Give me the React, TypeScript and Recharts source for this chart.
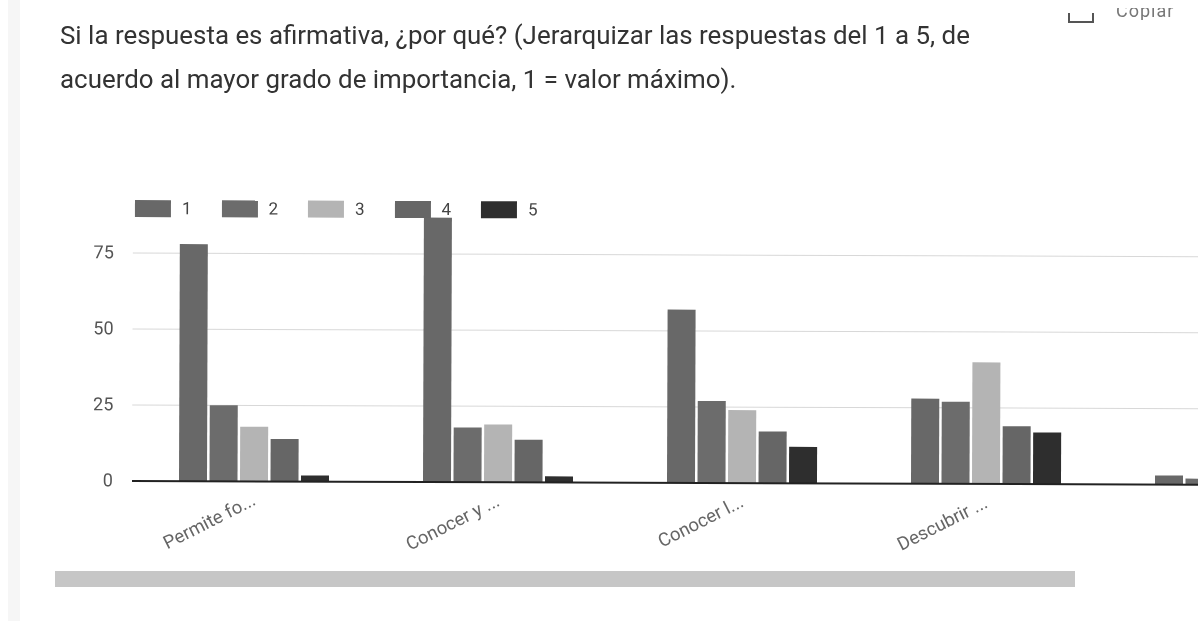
import { BarChart, Bar, XAxis, YAxis, CartesianGrid, Legend } from "recharts"

const categories = ["Permite fo...", "Conocer y ...", "Conocer l...", "Descubrir ...", ""]
const series1 = [78, 87, 57, 28, 3]
const series2 = [25, 18, 27, 27, 2]
const series3 = [18, 19, 24, 40, 0]
const series4 = [14, 14, 17, 19, 0]
const series5 = [2, 2, 12, 17, 0]
const yTicks = [0, 25, 50, 75]
const gridValues = [25, 50, 75]

const seriesNames = ["1", "2", "3", "4", "5"]
const seriesColors = ["#686868", "#6c6c6c", "#b4b4b4", "#666666", "#2e2e2e"]
const seriesValues = [series1, series2, series3, series4, series5]

const chartData = categories.map((name, i) => ({
  name,
  s1: series1[i],
  s2: series2[i],
  s3: series3[i],
  s4: series4[i],
  s5: series5[i],
}))

function LegendRow() {
  return (
    <div style={{ display: "flex", fontFamily: "Roboto", fontSize: 17, color: "#444" }}>
      {seriesNames.map((name, i) => (
        <div key={name} style={{ width: 86.5, display: "flex", alignItems: "center" }}>
          <span style={{ width: 36, height: 17, background: seriesColors[i], marginRight: 11 }} />
          {name}
        </div>
      ))}
    </div>
  )
}

export default function App() {
  return (
    <div
      style={{
        position: "absolute",
        left: 0,
        top: 0,
        width: 1198,
        height: 621,
        overflow: "hidden",
        background: "#fff",
        fontFamily: "Roboto",
        filter: "blur(0.5px)",
      }}
    >
      <div style={{ position: "absolute", left: 8, top: 0, width: 12, height: 621, background: "#f6f6f6" }} />
      <div style={{ position: "absolute", left: 60, top: 13, width: 1000, fontSize: 25.9, lineHeight: "44px", color: "#333" }}>
        Si la respuesta es afirmativa, ¿por qué? (Jerarquizar las respuestas del 1 a 5, de
        <br />
        acuerdo al mayor grado de importancia, 1 = valor máximo).
      </div>
      <div style={{ position: "absolute", left: 1068, top: 13, width: 22, height: 8, borderLeft: "2px solid #555", borderBottom: "2px solid #555", borderRight: "2px solid #555" }} />
      <div style={{ position: "absolute", left: 1116, top: 8, height: 12, overflow: "hidden" }}>
        <div style={{ marginTop: -8, fontSize: 18, letterSpacing: 1, color: "#777" }}>Copiar</div>
      </div>
      <div style={{ position: "absolute", left: 55, top: 571, width: 1020, height: 16, background: "#c6c6c6" }} />
      <div style={{ position: "absolute", left: 0, top: 0, transform: "rotate(0.2deg)", transformOrigin: "134px 481px" }}>
        <BarChart
          width={1400}
          height={621}
          data={chartData}
          margin={{ top: 177, right: 48, bottom: 80, left: 0 }}
          barCategoryGap={47}
          barGap={2.5}
          barSize={28}
        >
          <CartesianGrid vertical={false} stroke="#d8d8d8" horizontalValues={gridValues} />
          <XAxis
            dataKey="name"
            interval={0}
            height={60}
            angle={-27}
            textAnchor="end"
            tickLine={false}
            tickMargin={5}
            dx={-3}
            axisLine={{ stroke: "#222", strokeWidth: 2 }}
            tick={{ fontFamily: "Roboto", fontSize: 18.5, fill: "#666" }}
          />
          <YAxis
            width={132}
            domain={[0, 100]}
            ticks={yTicks}
            axisLine={false}
            tickLine={false}
            tickSize={0}
            tickMargin={19}
            dy={-1}
            tick={{ fontFamily: "Roboto", fontSize: 18, fill: "#555" }}
          />
          <Legend verticalAlign="middle" content={<LegendRow />} wrapperStyle={{ top: 198, left: 134, width: 500 }} />
          {seriesValues.map((_, i) => (
            <Bar
              key={seriesNames[i]}
              dataKey={`s${i + 1}`}
              name={seriesNames[i]}
              fill={seriesColors[i]}
              isAnimationActive={false}
            />
          ))}
        </BarChart>
      </div>
    </div>
  )
}
